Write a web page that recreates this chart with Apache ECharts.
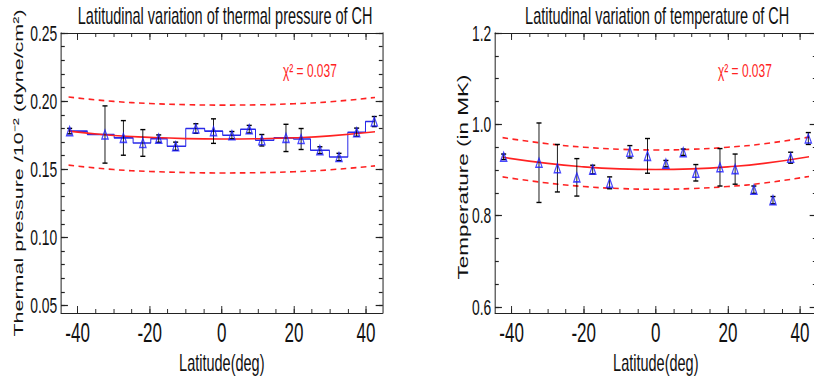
<!DOCTYPE html>
<html>
<head>
<meta charset="utf-8">
<script src="https://cdn.jsdelivr.net/npm/echarts@6/dist/echarts.min.js"></script>
<style>
html, body { margin: 0; padding: 0; background: #fff; overflow: hidden; }
/* the reference is squeezed horizontally, so the chart is drawn wide and scaled */
#chart { width: 1292px; height: 378px; transform: scaleX(0.63); transform-origin: 0 0; }
</style>
</head>
<body>
<div id="chart"></div>
<script>
var K = 0.63;

var latitude = [-42.2, -32.4, -27.3, -21.9, -17.5, -12.8, -7.2, -2.3, 2.8, 7.6, 11.1, 17.8, 22.0, 27.2, 32.5, 37.4, 42.3];
var pressure = [0.1780, 0.1755, 0.1730, 0.1693, 0.1725, 0.1669, 0.1799, 0.1780, 0.1750, 0.1794, 0.1713, 0.1730, 0.1722, 0.1640, 0.1590, 0.1772, 0.1850];
var pressureErr = [0.0020, 0.0210, 0.0127, 0.0098, 0.0027, 0.0030, 0.0035, 0.0090, 0.0027, 0.0028, 0.0042, 0.0100, 0.0077, 0.0025, 0.0027, 0.0030, 0.0037];
var temperature = [0.929, 0.916, 0.904, 0.884, 0.901, 0.872, 0.940, 0.931, 0.914, 0.939, 0.894, 0.906, 0.902, 0.857, 0.834, 0.927, 0.969];
var temperatureErr = [0.006, 0.087, 0.052, 0.041, 0.0095, 0.013, 0.0135, 0.038, 0.007, 0.007, 0.018, 0.041, 0.033, 0.008, 0.008, 0.012, 0.013];

var fitLatitude = [-42.5, -30, -20, -10, 0, 10, 20, 30, 42.5];
var pressureFit = [0.1780, 0.1748, 0.1734, 0.1725, 0.1722, 0.1724, 0.1731, 0.1745, 0.1775];
var pressureUpper = [0.2030, 0.1998, 0.1983, 0.1974, 0.1971, 0.1973, 0.1981, 0.1995, 0.2027];
var pressureLower = [0.1530, 0.1498, 0.1484, 0.1476, 0.1473, 0.1475, 0.1482, 0.1496, 0.1525];
var temperatureFit = [0.928, 0.9145, 0.907, 0.9025, 0.901, 0.9025, 0.907, 0.9145, 0.929];
var temperatureUpper = [0.971, 0.9575, 0.950, 0.9455, 0.944, 0.9455, 0.950, 0.9575, 0.972];
var temperatureLower = [0.885, 0.8715, 0.864, 0.8595, 0.858, 0.8595, 0.864, 0.8715, 0.886];

var latTicks = [-40, -20, 0, 20, 40];
var latMinorTicks = [-40, -35, -30, -25, -20, -15, -10, -5, 0, 5, 10, 15, 20, 25, 30, 35, 40];
var pressureTicks = [0.05, 0.10, 0.15, 0.20, 0.25];
var pressureMinorTicks = [0.05, 0.06, 0.07, 0.08, 0.09, 0.10, 0.11, 0.12, 0.13, 0.14, 0.15, 0.16, 0.17, 0.18, 0.19, 0.20, 0.21, 0.22, 0.23, 0.24, 0.25];
var temperatureTicks = [0.6, 0.8, 1.0, 1.2];
var temperatureMinorTicks = [0.6, 0.65, 0.7, 0.75, 0.8, 0.85, 0.9, 0.95, 1.0, 1.05, 1.1, 1.15, 1.2];

var FONT = 'Liberation Sans, Arial, sans-serif';
var AXIS_COLOR = '#222';
var RED = '#f22';
var BLUE = '#2a2ae8';

function sx(px) { return px / K; }

function pairs(xs, ys) {
    return xs.map(function (x, i) { return [x, ys[i]]; });
}

function errorRows(xs, ys, es) {
    return xs.map(function (x, i) { return [x, ys[i] - es[i], ys[i] + es[i]]; });
}

function renderErrorBar(params, api) {
    var hi = api.coord([api.value(0), api.value(2)]);
    var lo = api.coord([api.value(0), api.value(1)]);
    var w = 4;
    var style = { stroke: '#000', lineWidth: 1.4 };
    return {
        type: 'group',
        children: [
            { type: 'line', shape: { x1: hi[0], y1: hi[1], x2: lo[0], y2: lo[1] }, style: style },
            { type: 'line', shape: { x1: hi[0] - w, y1: hi[1], x2: hi[0] + w, y2: hi[1] }, style: style },
            { type: 'line', shape: { x1: lo[0] - w, y1: lo[1], x2: lo[0] + w, y2: lo[1] }, style: style }
        ]
    };
}

function tick(len, values, width) {
    return { show: true, inside: true, length: len, customValues: values, lineStyle: { color: AXIS_COLOR, width: width } };
}

function xAxes(g) {
    var base = { gridIndex: g, type: 'value', min: -44.6, max: 44.6, splitLine: { show: false } };
    var line = { show: true, onZero: false, lineStyle: { color: AXIS_COLOR, width: 1.2 } };
    var noLine = { show: false, onZero: false };
    return [
        Object.assign({}, base, {
            position: 'bottom', axisLine: line, axisTick: tick(7, latTicks, 1.5),
            axisLabel: { customValues: latTicks, color: '#111', fontFamily: FONT, fontSize: 27, margin: 7 },
            name: 'Latitude(deg)', nameLocation: 'middle', nameGap: 35,
            nameTextStyle: { color: '#111', fontFamily: FONT, fontSize: 23 }
        }),
        Object.assign({}, base, { position: 'bottom', axisLine: noLine, axisTick: tick(4, latMinorTicks, 1.5), axisLabel: { show: false } }),
        Object.assign({}, base, { position: 'top', axisLine: line, axisTick: tick(7, latTicks, 1.5), axisLabel: { show: false } }),
        Object.assign({}, base, { position: 'top', axisLine: noLine, axisTick: tick(4, latMinorTicks, 1.5), axisLabel: { show: false } })
    ];
}

function yAxes(g, min, max, ticks, minorTicks, digits) {
    var base = { gridIndex: g, type: 'value', min: min, max: max, splitLine: { show: false } };
    var line = { show: true, onZero: false, lineStyle: { color: AXIS_COLOR, width: 1.6 } };
    var noLine = { show: false, onZero: false };
    return [
        Object.assign({}, base, {
            position: 'left', axisLine: line, axisTick: tick(11, ticks, 1.2),
            axisLabel: {
                customValues: ticks, color: '#111', fontFamily: FONT, fontSize: 22, margin: 6,
                formatter: function (v) { return v.toFixed(digits); }
            }
        }),
        Object.assign({}, base, { position: 'left', axisLine: noLine, axisTick: tick(6, minorTicks, 1.2), axisLabel: { show: false } }),
        Object.assign({}, base, { position: 'right', axisLine: line, axisTick: tick(11, ticks, 1.2), axisLabel: { show: false } }),
        Object.assign({}, base, { position: 'right', axisLine: noLine, axisTick: tick(6, minorTicks, 1.2), axisLabel: { show: false } })
    ];
}

// vertical axis titles, centred on each y axis
function yTitle(text, px, py, size) {
    return {
        type: 'text', x: sx(px), y: py, rotation: Math.PI / 2,
        style: { text: text, fill: '#111', font: size + 'px ' + FONT, textAlign: 'center', textVerticalAlign: 'middle' }
    };
}

function fitSeries(g, values, dashed) {
    return {
        type: 'line', xAxisIndex: 4 * g, yAxisIndex: 4 * g,
        data: pairs(fitLatitude, values), smooth: true, showSymbol: false, silent: true,
        lineStyle: { color: RED, width: 1.6, type: dashed ? [9, 7] : 'solid' }, z: 3
    };
}

function pointSeries(g, values, errs) {
    return [
        {
            type: 'custom', xAxisIndex: 4 * g, yAxisIndex: 4 * g,
            data: errorRows(latitude, values, errs), renderItem: renderErrorBar,
            encode: { x: 0, y: [1, 2] }, z: 4
        },
        {
            type: 'scatter', xAxisIndex: 4 * g, yAxisIndex: 4 * g,
            data: pairs(latitude, values), symbol: 'triangle', symbolSize: [10, 9],
            itemStyle: { color: 'rgba(255,255,255,0)', borderColor: '#1a1aff', borderWidth: 1.7 }, z: 5
        }
    ];
}

var chart = echarts.init(document.getElementById('chart'), null, { renderer: 'svg' });

var option = {
    backgroundColor: '#fff',
    animation: false,
    title: [
        {
            text: 'Latitudinal variation of thermal pressure of CH', left: sx(222), top: 0, textAlign: 'center',
            textStyle: { color: '#111', fontFamily: FONT, fontSize: 23, fontWeight: 'normal' }
        },
        {
            text: 'Latitudinal variation of temperature of CH', left: sx(654), top: 0, textAlign: 'center',
            textStyle: { color: '#111', fontFamily: FONT, fontSize: 23, fontWeight: 'normal' }
        }
    ],
    grid: [
        { left: sx(61), top: 33, width: sx(382.6) - sx(61), height: 280, containLabel: false, outerBoundsMode: 'none' },
        { left: sx(495), top: 33, width: sx(816.6) - sx(495), height: 280, containLabel: false, outerBoundsMode: 'none' }
    ],
    xAxis: xAxes(0).concat(xAxes(1)),
    yAxis: yAxes(0, 0.0445, 0.25, pressureTicks, pressureMinorTicks, 2)
        .concat(yAxes(1, 0.587, 1.2, temperatureTicks, temperatureMinorTicks, 1)),
    graphic: [
        yTitle('Thermal pressure /10\u207B\u00B2 (dyne/cm\u00B2)', 18, 173, 21.5),
        yTitle('Temperature (in MK)', 463, 177, 22.5),
        {
            type: 'text', left: sx(283), top: 61,
            style: { text: '\u03C7\u00B2 = 0.037', fill: RED, font: '19px ' + FONT }
        },
        {
            type: 'text', left: sx(718), top: 61,
            style: { text: '\u03C7\u00B2 = 0.037', fill: RED, font: '19px ' + FONT }
        }
    ],
    series: [
        {
            type: 'line', xAxisIndex: 0, yAxisIndex: 0, data: pairs(latitude, pressure),
            step: 'middle', showSymbol: false, silent: true,
            lineStyle: { color: BLUE, width: 1.6 }, z: 2
        },
        fitSeries(0, pressureFit, false),
        fitSeries(0, pressureUpper, true),
        fitSeries(0, pressureLower, true),
        fitSeries(1, temperatureFit, false),
        fitSeries(1, temperatureUpper, true),
        fitSeries(1, temperatureLower, true)
    ].concat(pointSeries(0, pressure, pressureErr), pointSeries(1, temperature, temperatureErr))
};

chart.setOption(option);
</script>
</body>
</html>
